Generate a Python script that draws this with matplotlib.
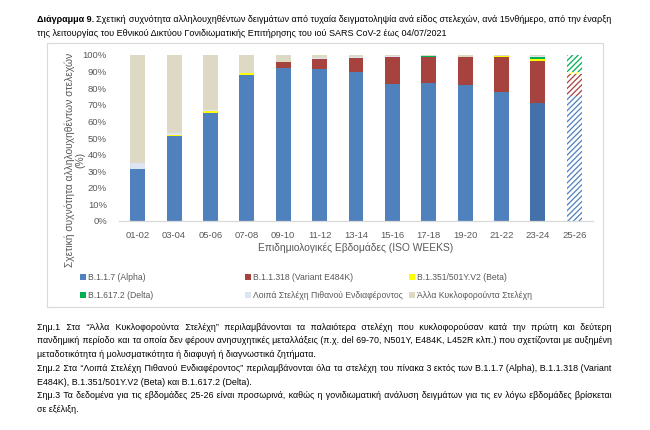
import matplotlib
matplotlib.use("Agg")
import matplotlib.pyplot as plt
import numpy as np
from matplotlib.patches import Rectangle

W, H = 650, 430

weeks = ['01-02', '03-04', '05-06', '07-08', '09-10', '11-12', '13-14',
         '15-16', '17-18', '19-20', '21-22', '23-24', '25-26']
alpha = [31.1, 51.4, 65.1, 88.1, 92.2, 91.6, 89.8, 82.5, 83.3, 81.7, 77.9, 71.1, 75.5]
e484k = [0.0, 0.0, 0.0, 0.0, 3.3, 6.0, 8.4, 16.3, 15.3, 17.1, 20.9, 25.5, 13.2]
beta = [0.2, 0.4, 1.2, 1.0, 0.0, 0.0, 0.0, 0.2, 0.3, 0.0, 0.5, 0.8, 1.0]
delta = [0.2, 0.0, 0.0, 0.0, 0.0, 0.0, 0.0, 0.0, 0.3, 0.0, 0.0, 1.4, 10.3]
voi = [3.6, 1.0, 0.8, 0.3, 0.2, 0.8, 0.3, 0.2, 0.2, 0.2, 0.1, 0.6, 0.0]
others = list(100 - np.array(alpha) - np.array(e484k) - np.array(beta)
              - np.array(delta) - np.array(voi))

labels = ['B.1.1.7 (Alpha)', 'B.1.1.318 (Variant E484K)', 'B.1.351/501Y.V2 (Beta)',
          'B.1.617.2 (Delta)', 'Λοιπά Στελέχη Πιθανού Ενδιαφέροντος', 'Άλλα Κυκλοφορούντα Στελέχη']
colors = ['#4F81BD', '#A6433F', '#FFFF00', '#00B050', '#DCE5F1', '#DDD9C4']

title_bold = 'Διάγραμμα 9.'
title_lines = ['Σχετική συχνότητα αλληλουχηθέντων δειγμάτων από τυχαία δειγματοληψία ανά είδος στελεχών, ανά 15νθήμερο, από την έναρξη',
               'της λειτουργίας του Εθνικού Δικτύου Γονιδιωματικής Επιτήρησης του ιού SARS CoV-2 έως 04/07/2021']
notes = [
    ('Σημ.1 Στα “Άλλα Κυκλοφορούντα Στελέχη” περιλαμβάνονται τα παλαιότερα στελέχη που κυκλοφορούσαν κατά την πρώτη και δεύτερη', True),
    ('πανδημική περίοδο και τα οποία δεν φέρουν ανησυχητικές μεταλλάξεις (π.χ. del 69-70, N501Y, E484K, L452R κλπ.) που σχετίζονται με αυξημένη', True),
    ('μεταδοτικότητα ή μολυσματικότητα ή διαφυγή ή διαγνωστικά ζητήματα.', False),
    ('Σημ.2 Στα “Λοιπά Στελέχη Πιθανού Ενδιαφέροντος” περιλαμβάνονται όλα τα στελέχη του πίνακα 3 εκτός των B.1.1.7 (Alpha), B.1.1.318 (Variant', True),
    ('E484K), B.1.351/501Y.V2 (Beta) και B.1.617.2 (Delta).', False),
    ('Σημ.3 Τα δεδομένα για τις εβδομάδες 25-26 είναι προσωρινά, καθώς η γονιδιωματική ανάλυση δειγμάτων για τις εν λόγω εβδομάδες βρίσκεται', True),
    ('σε εξέλιξη.', False),
]

plt.rcParams['font.family'] = ['Liberation Sans', 'DejaVu Sans']
plt.rcParams['hatch.linewidth'] = 0.9
GREY = '#595959'
HAIR = '\u200a'

fig = plt.figure(figsize=(W / 100, H / 100), dpi=100)
renderer = fig.canvas.get_renderer()


def px(x, y):
    return x / W, 1 - y / H


def text_width(s, size, weight='normal'):
    t = fig.text(0, 0, s, fontsize=size, fontweight=weight)
    w = t.get_window_extent(renderer).width
    t.remove()
    return w


def put_line(text, x0, x1, y, size, justify, weight='normal'):
    # one artist per line; justification by padding the spaces with hair spaces
    if justify:
        hair = (text_width('a' + HAIR * 20 + 'a', size) - text_width('aa', size)) / 20
        gaps = text.count(' ')
        extra = x1 - x0 - text_width(text, size, weight)
        if hair > 0.1 and gaps and extra > 0:
            total = int(extra / hair)
            words = text.split(' ')
            out = words[0]
            for i, w in enumerate(words[1:]):
                k = total // gaps + (1 if i < total % gaps else 0)
                out += ' ' + HAIR * k + w
            text = out
    return fig.text(x0 / W, 1 - y / H, text, fontsize=size, fontweight=weight,
                    va='center_baseline', ha='left', color='black')


# title
TS = 6.7
while text_width(title_bold + ' ' + title_lines[0], TS) > 575:
    TS -= 0.1
bold = put_line(title_bold, 37, 612, 19, TS, False, 'bold')
bw = bold.get_window_extent(renderer).width
put_line(title_lines[0], 37 + bw + 2.2, 612, 19, TS, True)
put_line(title_lines[1], 37, 612, 33, TS, False)

# chart frame
fig.patches.append(Rectangle(px(47, 307), 556 / W, 264 / H, transform=fig.transFigure,
                             facecolor='white', edgecolor='#D9D9D9', linewidth=0.8, zorder=-5))

ax = fig.add_axes([119.5 / W, 1 - 221 / H, 473 / W, 166 / H])
ax.set_zorder(2)
ax.patch.set_alpha(0)
x = np.arange(len(weeks))
series = [alpha, e484k, beta, delta, voi, others]
bottom = np.zeros(len(weeks))
n = len(weeks)
for vals, col, lab in zip(series, colors, labels):
    vals = np.array(vals)
    solid = [col] * n
    if col == '#4F81BD':
        solid[11] = '#4471A9'
    ax.bar(x[:-1], vals[:-1], 0.41, bottom=bottom[:-1], color=solid[:-1], linewidth=0)
    if vals[-1] > 0:
        ax.bar(x[-1:], vals[-1:], 0.41, bottom=bottom[-1:], facecolor='white',
               edgecolor=col, hatch='//////', linewidth=0)
    bottom += vals

ax.set_xlim(-0.5, n - 0.5)
ax.set_ylim(0, 100)
ax.set_yticks(np.arange(0, 101, 10))
ax.set_yticklabels([f'{v}%' for v in range(0, 101, 10)])
ax.set_xticks(x)
ax.set_xticklabels(weeks)
ax.tick_params(length=0, labelsize=6.8, colors=GREY)
ax.tick_params(axis='y', pad=9)
ax.tick_params(axis='x', pad=7)
for s in ['top', 'right', 'left']:
    ax.spines[s].set_visible(False)
ax.spines['bottom'].set_color('#D9D9D9')
ax.spines['bottom'].set_linewidth(0.9)

fig.text(356 / W, 1 - 248 / H, 'Επιδημιολογικές Εβδομάδες (ISO WEEKS)', fontsize=7.4,
         color=GREY, ha='center', va='center', zorder=3)
fig.text(75 / W, 1 - 160 / H, 'Σχετική συχνότητα αλληλουχηθέντων στελεχών\n(%)', fontsize=7.4,
         color=GREY, ha='center', va='center', rotation=90, multialignment='center',
         linespacing=1.1, zorder=3)

# legend
leg_pos = [(83, 277), (248, 277), (412, 277), (83, 295), (248, 295), (412, 295)]
for (lx, ly), col, lab in zip(leg_pos, colors, labels):
    fig.patches.append(Rectangle(px(lx - 3, ly + 3), 6 / W, 6 / H, transform=fig.transFigure,
                                 facecolor=col, edgecolor='none', zorder=3))
    fig.text((lx + 5) / W, 1 - ly / H, lab, fontsize=6.2, color=GREY, ha='left', va='center',
             zorder=3)

# notes, one common size that lets every full line fit
NS = 6.9
while max(text_width(l, NS) for l, j in notes if j) > 575:
    NS -= 0.1
for i, (line, just) in enumerate(notes):
    put_line(line, 37, 612, 326 + i * 13.8, NS, just)

fig.savefig('out.png', dpi=100)
